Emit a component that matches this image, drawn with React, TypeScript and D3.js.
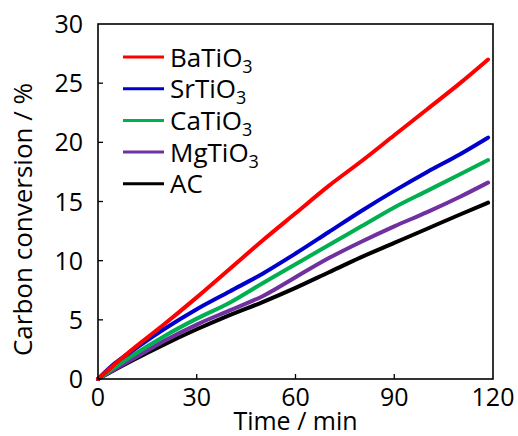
import React from "react";
import * as d3 from "d3";

const xTicks = [0, 30, 60, 90, 120];
const yTicks = [0, 5, 10, 15, 20, 25, 30];

const seriesNames = ["BaTiO", "SrTiO", "CaTiO", "MgTiO", "AC"];
const seriesSubs = ["3", "3", "3", "3", ""];
const seriesColors = ["#ff0000", "#0000cc", "#00b050", "#7030a0", "#000000"];

const baTime = [0, 10, 20, 30, 40, 50, 60, 70, 80, 90, 100, 110, 118.5];
const baVal = [0, 2.4, 4.6, 6.9, 9.3, 11.7, 14.0, 16.3, 18.4, 20.6, 22.8, 25.0, 27.0];

const srTime = [0, 5, 10, 20, 30, 40, 50, 60, 70, 80, 90, 100, 110, 118.5];
const srVal = [0, 1.3, 2.3, 4.2, 5.9, 7.4, 8.9, 10.6, 12.4, 14.2, 15.9, 17.5, 19.0, 20.4];

const caTime = [0, 10, 20, 30, 40, 50, 60, 70, 80, 90, 100, 110, 118.5];
const caVal = [0, 1.9, 3.6, 5.1, 6.45, 8.1, 9.7, 11.3, 12.9, 14.5, 15.9, 17.3, 18.5];

const mgTime = [0, 10, 20, 30, 40, 50, 60, 70, 80, 90, 100, 110, 118.5];
const mgVal = [0, 1.6, 3.2, 4.6, 5.8, 7.0, 8.6, 10.2, 11.6, 12.9, 14.1, 15.4, 16.6];

const acTime = [0, 10, 20, 30, 40, 50, 60, 70, 80, 90, 100, 110, 118.5];
const acVal = [0, 1.5, 2.9, 4.2, 5.4, 6.5, 7.7, 9.0, 10.3, 11.5, 12.7, 13.9, 14.9];

const allTimes = [baTime, srTime, caTime, mgTime, acTime];
const allVals = [baVal, srVal, caVal, mgVal, acVal];

export default function App() {
  const W = 518, H = 436;
  const left = 98, right = 493, top = 24, bottom = 379;
  const x = d3.scaleLinear().domain([0, 120]).range([left, right]);
  const y = d3.scaleLinear().domain([0, 30]).range([bottom, top]);
  const line = d3.line<[number, number]>().x(d => x(d[0])).y(d => y(d[1])).curve(d3.curveMonotoneX);
  const font = "'Open Sans', sans-serif";
  const drawOrder = [4, 3, 2, 1, 0];
  return (
    <svg width={W} height={H} style={{ position: "absolute", left: 0, top: 0, background: "#fff" }}>
      <rect x={0} y={0} width={W} height={H} fill="#fff" />
      {drawOrder.map(i => (
        <path key={i} d={line(allTimes[i].map((t, j) => [t, allVals[i][j]]) as [number, number][]) || ""}
          fill="none" stroke={seriesColors[i]} strokeWidth={4} strokeLinejoin="round" strokeLinecap="round" />
      ))}
      <rect x={left} y={top} width={right - left} height={bottom - top} fill="none" stroke="#000" strokeWidth={1.6} />
      {xTicks.map(t => (
        <g key={"x" + t}>
          {t > 0 && t < 120 && <line x1={x(t)} x2={x(t)} y1={bottom} y2={bottom - 5} stroke="#000" strokeWidth={1.3} />}
          <text x={x(t)} y={406} textAnchor="middle" fontFamily={font} fontSize={25} fill="#000">{t}</text>
        </g>
      ))}
      {yTicks.map(v => (
        <g key={"y" + v}>
          {v > 0 && v < 30 && <line x1={left} x2={left + 5} y1={y(v)} y2={y(v)} stroke="#000" strokeWidth={1.3} />}
          <text x={83} y={y(v) + 9} textAnchor="end" fontFamily={font} fontSize={25} fill="#000">{v}</text>
        </g>
      ))}
      <text x={(left + right) / 2} y={430} textAnchor="middle" fontFamily={font} fontSize={25} fill="#000">Time / min</text>
      <text transform={`translate(32,${(top + bottom) / 2 + 18}) rotate(-90)`} textAnchor="middle" fontFamily={font} fontSize={26} fill="#000">Carbon conversion / %</text>
      {seriesNames.map((n, i) => {
        const ly = 57 + i * 31.7;
        return (
          <g key={n}>
            <line x1={123} x2={164} y1={ly} y2={ly} stroke={seriesColors[i]} strokeWidth={3} />
            <text x={170} y={ly + 9.5} fontFamily={font} fontSize={26} fill="#000">
              {n}
              {seriesSubs[i] && <tspan fontSize={18} dy={6}>{seriesSubs[i]}</tspan>}
            </text>
          </g>
        );
      })}
    </svg>
  );
}
